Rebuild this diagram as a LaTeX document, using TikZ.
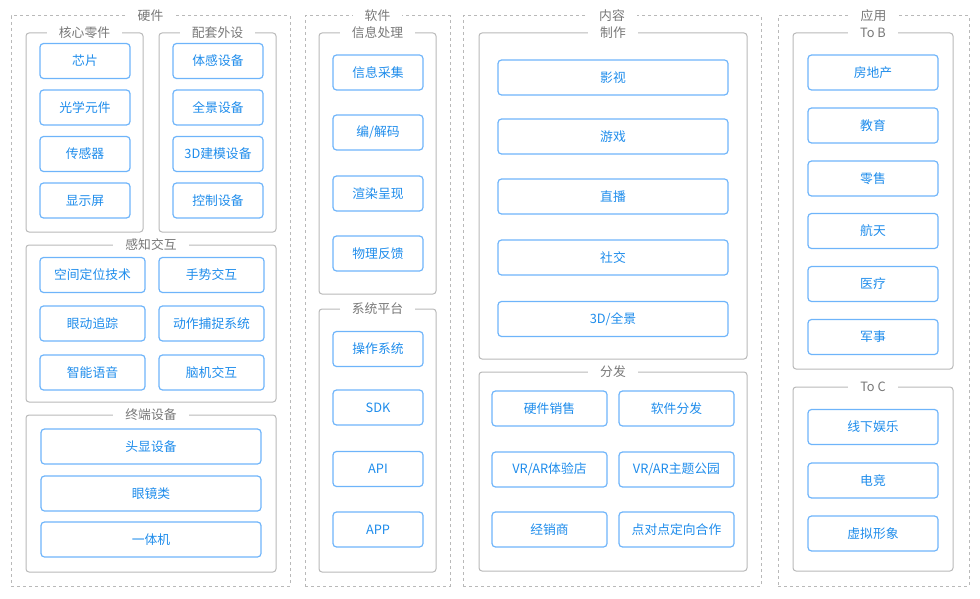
\documentclass[tikz,border=0pt]{standalone}
\usepackage{fontspec}
\setmainfont{Noto Sans CJK SC}
\definecolor{itemline}{RGB}{110,180,250}
\definecolor{itemtext}{RGB}{30,140,235}
\definecolor{boxline}{RGB}{185,185,185}
\definecolor{titletext}{RGB}{120,120,120}
\begin{document}
\begin{tikzpicture}[x=1pt,y=-1pt]
\tikzstyle{area}=[draw=boxline, line width=1pt, dash pattern=on 3pt off 3pt, minimum width=#1, inner sep=0pt];
\tikzstyle{group}=[draw=boxline, line width=1pt, rounded corners=3pt, inner sep=0pt];
\tikzstyle{item}=[draw=itemline, line width=1.2pt, rounded corners=3.5pt, text=itemtext, minimum height=35pt, inner sep=0pt, font=\fontsize{12.8}{15}\selectfont];
\tikzstyle{title}=[fill=white, text=titletext, inner xsep=12pt, inner ysep=1pt, font=\fontsize{12.8}{15}\selectfont];
\useasboundingbox (0,0) rectangle (980,599);
% hardware
\node [area=279pt, minimum height=570pt] (hw) at (150.5,301) {};
\node [title] (hwt) at (hw.north) {硬件};
\node [group, minimum width=117pt, minimum height=199pt] (core) at (84.5,132.5) {};
\node [title] (coret) at (core.north) {核心零件};
\node [item, minimum width=90pt] (chip) at (85,61) {芯片};
\node [item, minimum width=90pt] (optic) at (85,107.5) {光学元件};
\node [item, minimum width=90pt] (sensor) at (85,154) {传感器};
\node [item, minimum width=90pt] (screen) at (85,200.5) {显示屏};
\node [group, minimum width=117pt, minimum height=199pt] (periph) at (217.5,132.5) {};
\node [title] (periphtt) at (periph.north) {配套外设};
\node [item, minimum width=90pt] (somato) at (218,61) {体感设备};
\node [item, minimum width=90pt] (pano) at (218,107.5) {全景设备};
\node [item, minimum width=90pt] (model) at (218,154) {3D建模设备};
\node [item, minimum width=90pt] (ctrl) at (218,200.5) {控制设备};
\node [group, minimum width=250pt, minimum height=157pt] (sense) at (151,323.5) {};
\node [title] (senset) at (sense.north) {感知交互};
\node [item, minimum width=105pt] (locate) at (92.5,275) {空间定位技术};
\node [item, minimum width=105pt] (gesture) at (211.5,275) {手势交互};
\node [item, minimum width=105pt] (eye) at (92.5,323.5) {眼动追踪};
\node [item, minimum width=105pt] (mocap) at (211.5,323.5) {动作捕捉系统};
\node [item, minimum width=105pt] (voice) at (92.5,372.5) {智能语音};
\node [item, minimum width=105pt] (bci) at (211.5,372.5) {脑机交互};
\node [group, minimum width=250pt, minimum height=157pt] (term) at (151,493.5) {};
\node [title] (termt) at (term.north) {终端设备};
\node [item, minimum width=220pt] (hmd) at (151,446.5) {头显设备};
\node [item, minimum width=220pt] (glass) at (151,493.5) {眼镜类};
\node [item, minimum width=220pt] (aio) at (151,539.5) {一体机};
% software
\node [area=145pt, minimum height=570pt] (sw) at (377.5,301) {};
\node [title] (swt) at (sw.north) {软件};
\node [group, minimum width=117pt, minimum height=261pt] (proc) at (377.5,163.5) {};
\node [title] (proct) at (proc.north) {信息处理};
\node [item, minimum width=90pt] (collect) at (378,72.5) {信息采集};
\node [item, minimum width=90pt] (codec) at (378,132.5) {编/解码};
\node [item, minimum width=90pt] (render) at (378,193.5) {渲染呈现};
\node [item, minimum width=90pt] (feedback) at (378,253.5) {物理反馈};
\node [group, minimum width=117pt, minimum height=263pt] (plat) at (377.5,440.5) {};
\node [title] (platt) at (plat.north) {系统平台};
\node [item, minimum width=90pt] (os) at (378,349) {操作系统};
\node [item, minimum width=90pt] (sdk) at (378,407.5) {SDK};
\node [item, minimum width=90pt] (api) at (378,469) {API};
\node [item, minimum width=90pt] (app) at (378,529.5) {APP};
% content
\node [area=298pt, minimum height=570pt] (ct) at (612,301) {};
\node [title] (ctt) at (ct.north) {内容};
\node [group, minimum width=268pt, minimum height=326pt] (make) at (613,196) {};
\node [title] (maket) at (make.north) {制作};
\node [item, minimum width=230pt] (film) at (613,77.5) {影视};
\node [item, minimum width=230pt] (game) at (613,136.5) {游戏};
\node [item, minimum width=230pt] (live) at (613,196.5) {直播};
\node [item, minimum width=230pt] (social) at (613,257.5) {社交};
\node [item, minimum width=230pt] (pan) at (613,319) {3D/全景};
\node [group, minimum width=268pt, minimum height=199pt] (dist) at (613,471.5) {};
\node [title] (distt) at (dist.north) {分发};
\node [item, minimum width=115pt] (hwsale) at (549.5,408.5) {硬件销售};
\node [item, minimum width=115pt] (swdist) at (676.5,408.5) {软件分发};
\node [item, minimum width=115pt] (store) at (549.5,469.5) {VR/AR体验店};
\node [item, minimum width=115pt] (park) at (676.5,469.5) {VR/AR主题公园};
\node [item, minimum width=115pt] (dealer) at (549.5,529.5) {经销商};
\node [item, minimum width=115pt] (p2p) at (676.5,529.5) {点对点定向合作};
% application
\node [area=191pt, minimum height=570pt] (ap) at (873.5,301) {};
\node [title] (apt) at (ap.north) {应用};
\node [group, minimum width=160pt, minimum height=336pt] (tob) at (873,201) {};
\node [title] (tobt) at (tob.north) {To B};
\node [item, minimum width=130pt] (estate) at (873,72.5) {房地产};
\node [item, minimum width=130pt] (edu) at (873,125.5) {教育};
\node [item, minimum width=130pt] (retail) at (873,178.5) {零售};
\node [item, minimum width=130pt] (space) at (873,231) {航天};
\node [item, minimum width=130pt] (med) at (873,284) {医疗};
\node [item, minimum width=130pt] (mil) at (873,337) {军事};
\node [group, minimum width=160pt, minimum height=184pt] (toc) at (873,479) {};
\node [title] (toct) at (toc.north) {To C};
\node [item, minimum width=130pt] (fun) at (873,427) {线下娱乐};
\node [item, minimum width=130pt] (esport) at (873,480.5) {电竞};
\node [item, minimum width=130pt] (avatar) at (873,533.5) {虚拟形象};
\end{tikzpicture}
\end{document}
